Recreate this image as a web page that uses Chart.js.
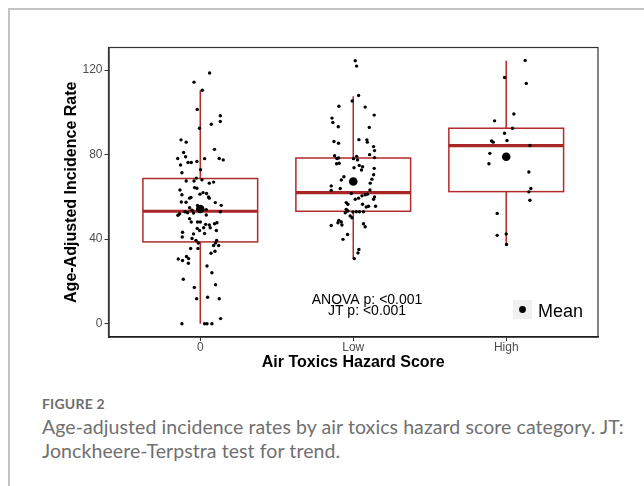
<!DOCTYPE html>
<html><head><meta charset="utf-8">
<script src="https://cdn.jsdelivr.net/npm/chart.js@4.4.1/dist/chart.umd.min.js"></script>
<style>
html,body{margin:0;padding:0;background:#fff;width:644px;height:486px;overflow:hidden;}
#frame{position:absolute;left:8px;top:8px;width:640px;height:480px;border-top:2px solid #c4c4c4;border-left:2px solid #c4c4c4;}
#wrap{position:absolute;left:0;top:0;width:644px;height:372px;}
#fig{position:absolute;left:42px;top:395px;font:700 14px Lato,sans-serif;color:#6e6e6e;letter-spacing:0.2px;}
#cap{position:absolute;left:42px;top:415px;width:600px;font:400 19.5px/24px Lato,sans-serif;color:#707070;letter-spacing:0.08px;white-space:nowrap;}
</style>
</head><body>
<div id="frame"></div>
<div id="wrap"><canvas id="c" width="644" height="372"></canvas></div>
<div id="fig">FIGURE 2</div>
<div id="cap">Age-adjusted incidence rates by air toxics hazard score category. JT:<br>Jonckheere-Terpstra test for trend.</div>
<script>
// ---- data ----
const categories = ['0', 'Low', 'High'];
const yTicks = [0, 40, 80, 120];
const q1 = [38.7, 53.2, 62.5];
const median = [53.2, 62.0, 84.3];
const q3 = [68.7, 78.4, 92.5];
const whiskerLow = [0, 30.6, 37.5];
const whiskerHigh = [110.5, 107.6, 124.4];
const means = [54.3, 67.3, 79.0];

// jittered observations: horizontal jitter (category units) and rate
const zeroJitter = [0.061,-0.041,0.013,-0.020,0.131,0.131,0.072,-0.005,-0.126,-0.092,0.093,-0.109,-0.096,-0.148,0.124,0.150,0.028,-0.022,-0.080,-0.059,-0.129,0.002,-0.120,-0.026,0.011,-0.092,-0.041,0.059,0.087,-0.133,-0.037,-0.022,0.041,0.018,-0.002,-0.120,-0.061,-0.070,0.059,-0.124,-0.093,0.098,0.137,-0.018,-0.070,-0.054,0.039,-0.100,-0.083,0.131,-0.135,-0.146,-0.044,0.039,-0.070,-0.059,-0.018,0.000,0.035,0.059,0.109,0.093,-0.020,-0.005,0.022,0.065,0.105,-0.116,-0.118,-0.044,0.028,-0.054,-0.028,-0.013,0.107,0.100,0.087,0.120,-0.063,-0.015,0.096,0.070,-0.090,-0.076,-0.144,-0.116,-0.078,0.044,0.076,-0.111,0.100,-0.039,0.048,-0.024,0.124,0.133,-0.120,0.028,0.044,0.076,0.054];
const zeroRate = [118.6,114.3,110.5,101.4,98.4,95.7,94.4,92.5,87.0,85.9,82.5,81.0,79.0,78.2,78.2,77.5,78.1,76.8,76.3,76.3,75.1,72.9,71.4,68.9,68.1,67.5,67.5,66.5,67.0,63.3,64.4,64.1,61.6,62.0,61.3,61.0,59.7,59.4,59.4,57.6,57.5,57.3,56.0,55.9,54.9,53.7,54.0,53.0,52.5,53.0,52.0,51.3,52.4,51.4,49.7,48.1,48.1,48.1,47.0,46.7,47.8,47.3,45.1,44.1,45.4,45.4,44.1,43.3,41.0,42.5,42.7,40.3,39.4,38.2,39.4,38.2,37.0,37.0,35.6,35.6,34.3,33.3,31.8,30.8,30.6,29.9,28.6,27.3,24.1,21.0,18.4,17.1,12.5,11.8,11.8,2.4,0,0,0,0,60.0];

const lowJitter = [0.013,0.022,0.035,-0.007,-0.094,0.078,0.137,-0.139,-0.133,-0.098,0.105,-0.126,-0.096,0.037,0.089,0.092,0.133,0.139,0.107,-0.122,-0.107,-0.096,0.139,0.022,0.028,0.002,-0.109,-0.092,0.039,0.061,0.054,0.137,0.005,0.133,0.122,0.111,-0.061,-0.078,-0.144,-0.085,-0.144,0.109,-0.013,0.013,0.035,0.057,0.078,0.093,0.139,0.133,-0.046,-0.035,0.061,0.085,0.100,0.146,-0.046,-0.035,-0.052,-0.002,0.020,0.041,0.067,-0.020,-0.008,-0.094,-0.078,-0.144,-0.074,-0.100,0.067,0.078,-0.037,-0.067,0.037,0.031,0.007];
const lowRate = [124.4,121.9,108.0,105.4,102.9,102.5,98.7,97.3,95.2,93.2,92.9,86.2,85.4,87.1,87.0,85.9,83.8,81.9,80.0,79.5,78.2,78.4,78.6,79.2,77.5,78.1,75.7,75.9,74.9,74.3,72.7,73.5,73.8,70.5,68.4,66.5,69.5,68.0,65.2,64.0,63.0,63.3,61.6,58.9,59.4,60.5,61.0,61.3,60.0,58.9,57.3,56.5,56.5,55.2,55.6,55.6,54.1,53.3,52.5,52.9,53.0,53.0,53.0,51.0,50.1,48.9,48.1,46.5,46.7,47.8,47.3,45.9,42.2,39.9,35.1,33.5,30.8];

const highJitter = [0.124,-0.011,0.131,0.050,-0.076,0.041,-0.011,-0.096,-0.085,0.005,0.155,-0.107,-0.113,0.148,0.161,0.148,0.155,-0.059,-0.059,0.000,0.002];
const highRate = [124.6,116.5,113.7,99.2,96.0,92.5,90.1,86.5,85.9,86.7,84.3,80.6,75.7,71.8,64.0,62.4,58.4,52.2,41.8,42.5,37.5];

const annText = ['ANOVA p: <0.001', 'JT p: <0.001'];
const annX = 1.09;
const annY = [9.2, 4.1];

// ---- build datasets ----
function pts(idx, jit, rate) { return rate.map((v, i) => ({ x: idx + jit[i], y: v })); }
const obs = [].concat(pts(0, zeroJitter, zeroRate), pts(1, lowJitter, lowRate), pts(2, highJitter, highRate));
const meanPts = means.map((m, i) => ({ x: i, y: m }));

const RED = '#b22a2a';
const boxPlugin = {
  id: 'boxes',
  beforeDatasetsDraw(chart) {
    const { ctx, scales: { x, y } } = chart;
    ctx.save();
    categories.forEach((c, i) => {
      const cx = x.getPixelForValue(i);
      const l = x.getPixelForValue(i - 0.375), r = x.getPixelForValue(i + 0.375);
      ctx.strokeStyle = RED; ctx.lineWidth = 1.5;
      ctx.beginPath();
      ctx.moveTo(cx, y.getPixelForValue(whiskerHigh[i])); ctx.lineTo(cx, y.getPixelForValue(q3[i]));
      ctx.moveTo(cx, y.getPixelForValue(q1[i])); ctx.lineTo(cx, y.getPixelForValue(whiskerLow[i]));
      ctx.stroke();
      const t = y.getPixelForValue(q3[i]), b = y.getPixelForValue(q1[i]);
      ctx.strokeRect(l, t, r - l, b - t);
      ctx.lineWidth = 3.2; ctx.strokeStyle = '#a82626';
      ctx.beginPath();
      const m = y.getPixelForValue(median[i]);
      ctx.moveTo(l, m); ctx.lineTo(r, m); ctx.stroke();
    });
    ctx.restore();
  },
  afterDraw(chart) {
    const { ctx, chartArea: a, scales: { x, y } } = chart;
    ctx.save();
    ctx.strokeStyle = '#333'; ctx.lineWidth = 1.2;
    ctx.strokeRect(a.left, a.top, a.right - a.left, a.bottom - a.top);
    // annotation
    ctx.fillStyle = '#000'; ctx.font = '14px "Liberation Sans", Arial, sans-serif';
    ctx.textAlign = 'center'; ctx.textBaseline = 'alphabetic';
    annText.forEach((t, i) => ctx.fillText(t, x.getPixelForValue(annX), y.getPixelForValue(annY[i])));
    // legend
    const kx = a.right - 85, ky = a.bottom - 37;
    ctx.fillStyle = '#f0f0f0'; ctx.fillRect(kx, ky, 19, 19);
    ctx.fillStyle = '#000'; ctx.beginPath(); ctx.arc(kx + 9.5, ky + 9.5, 3.4, 0, Math.PI * 2); ctx.fill();
    ctx.font = '18px "Liberation Sans", Arial, sans-serif'; ctx.textAlign = 'left'; ctx.textBaseline = 'alphabetic';
    ctx.fillText('Mean', kx + 25, ky + 17);
    ctx.restore();
  }
};

new Chart(document.getElementById('c'), {
  type: 'scatter',
  data: {
    datasets: [
      { label: 'obs', data: obs, pointRadius: 1.7, pointHoverRadius: 1.7, backgroundColor: '#000', borderWidth: 0 },
      { label: 'Mean', data: meanPts, pointRadius: 4.3, pointHoverRadius: 4.3, backgroundColor: '#000', borderWidth: 0 }
    ]
  },
  options: {
    responsive: false, animation: false, devicePixelRatio: 1,
    layout: { padding: { left: 62, top: 47.5, right: 46, bottom: 0 } },
    plugins: { legend: { display: false }, tooltip: { enabled: false } },
    scales: {
      x: {
        type: 'linear', min: -0.6, max: 2.6,
        afterBuildTicks: s => { s.ticks = categories.map((c, i) => ({ value: i })); },
        afterFit: s => { s.height = 35; },
        ticks: { callback: v => categories[v], color: '#4d4d4d', font: { family: '"Liberation Sans", Arial', size: 12 }, padding: -1, maxRotation: 0 },
        grid: { drawOnChartArea: false, drawTicks: true, tickLength: 4, color: '#333', tickWidth: 1 },
        border: { display: true, color: '#000', width: 1.6 },
        title: { display: true, text: 'Air Toxics Hazard Score', color: '#000', font: { family: '"Liberation Sans", Arial', size: 16, weight: 'bold' }, padding: 0 }
      },
      y: {
        type: 'linear', min: -6.3, max: 130.7,
        afterBuildTicks: s => { s.ticks = yTicks.map(v => ({ value: v })); },
        afterFit: s => { s.width = 46.5; },
        ticks: { color: '#4d4d4d', font: { family: '"Liberation Sans", Arial', size: 12 }, padding: 2 },
        grid: { drawOnChartArea: false, drawTicks: true, tickLength: 4, color: '#333', tickWidth: 1 },
        border: { display: true, color: '#000', width: 1.6 },
        title: { display: true, text: 'Age-Adjusted Incidence Rate', color: '#000', font: { family: '"Liberation Sans", Arial', size: 16, weight: 'bold' }, padding: 0 }
      }
    }
  },
  plugins: [boxPlugin]
});
</script>
</body></html>
